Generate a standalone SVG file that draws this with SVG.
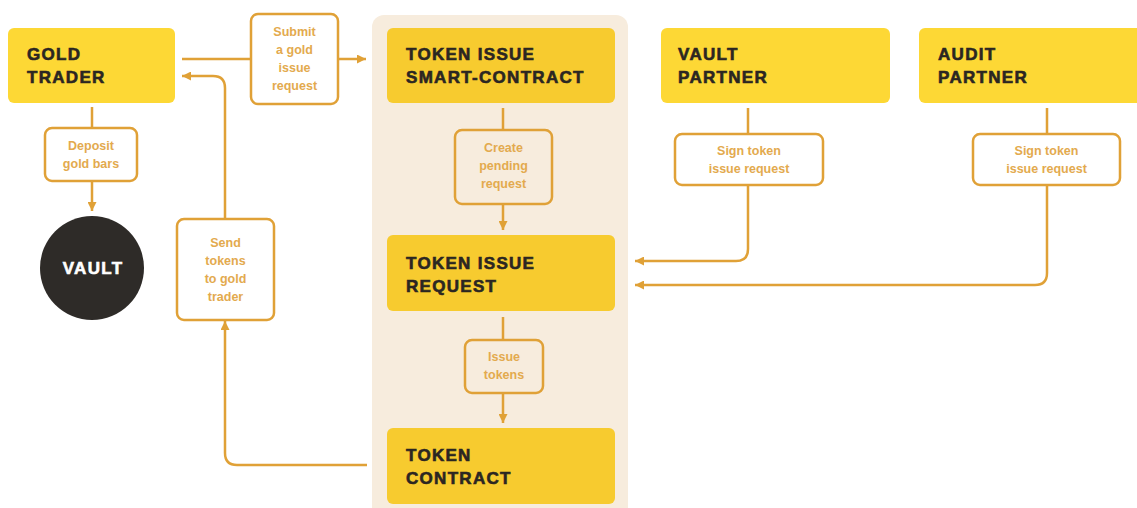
<svg xmlns="http://www.w3.org/2000/svg" width="1137" height="508" viewBox="0 0 1137 508">
<defs>
<marker id="arr" viewBox="0 0 9 9" refX="9" refY="4.5" markerWidth="9" markerHeight="9" markerUnits="userSpaceOnUse" orient="auto">
<path d="M0,0 L9,4.5 L0,9 z" fill="#E0A137"/>
</marker>
<style>
.node{fill:#FDD835}
.inner{fill:#F7CB2F}
.title{font-family:"Liberation Sans",Arial,sans-serif;font-weight:bold;font-size:17px;letter-spacing:1.3px;fill:#2B2622;stroke:#2B2622;stroke-width:0.6px}
.conn{fill:none;stroke:#E0A137;stroke-width:2.5}
.lbox{fill:#FFFFFF;stroke:#E0A137;stroke-width:2.5}
.lboxin{fill:#F7ECDD;stroke:#E0A137;stroke-width:2.5}
.lt{font-family:"Liberation Sans",Arial,sans-serif;font-weight:bold;font-size:12.5px;fill:#E3AA4E;text-anchor:middle;dominant-baseline:central}
</style>
</defs>
<rect width="1137" height="508" fill="#FFFFFF"/>
<rect id="panel" x="372" y="15" width="256" height="510" rx="12" fill="#F7ECDD"/>

<g id="connectors">
<path class="conn" d="M182,59 H366" marker-end="url(#arr)"/>
<path class="conn" d="M92,107 V211" marker-end="url(#arr)"/>
<path class="conn" d="M367,465 H237 Q225,465 225,453 V321" marker-end="url(#arr)"/>
<path class="conn" d="M225,219 V88 Q225,76 213,76 H182" marker-end="url(#arr)"/>
<path class="conn" d="M503,108 V230" marker-end="url(#arr)"/>
<path class="conn" d="M503,317 V423" marker-end="url(#arr)"/>
<path class="conn" d="M748,108 V249 Q748,261 736,261 H635" marker-end="url(#arr)"/>
<path class="conn" d="M1047,108 V273 Q1047,285 1035,285 H635" marker-end="url(#arr)"/>
</g>

<g id="gold-trader">
<rect class="node" x="8" y="28" width="167" height="75" rx="6"/>
<text class="title" x="27" y="60">GOLD</text>
<text class="title" x="27" y="83">TRADER</text>
</g>

<g id="token-issue-smart-contract">
<rect class="inner" x="387" y="28" width="228" height="75" rx="6"/>
<text class="title" x="406" y="60">TOKEN ISSUE</text>
<text class="title" x="406" y="83">SMART-CONTRACT</text>
</g>

<g id="vault-partner">
<rect class="node" x="661" y="28" width="229" height="75" rx="6"/>
<text class="title" x="678" y="60">VAULT</text>
<text class="title" x="678" y="83">PARTNER</text>
</g>

<g id="audit-partner">
<rect class="node" x="919" y="28" width="240" height="75" rx="6"/>
<text class="title" x="938" y="60">AUDIT</text>
<text class="title" x="938" y="83">PARTNER</text>
</g>

<g id="token-issue-request">
<rect class="inner" x="387" y="235" width="228" height="76" rx="6"/>
<text class="title" x="406" y="269">TOKEN ISSUE</text>
<text class="title" x="406" y="292">REQUEST</text>
</g>

<g id="token-contract">
<rect class="inner" x="387" y="428" width="228" height="76" rx="6"/>
<text class="title" x="406" y="461">TOKEN</text>
<text class="title" x="406" y="484">CONTRACT</text>
</g>

<g id="vault">
<circle cx="92" cy="268" r="52" fill="#2E2B28"/>
<text class="title" x="93" y="274" text-anchor="middle" style="fill:#FFFFFF;stroke:#FFFFFF">VAULT</text>
</g>

<g id="label-submit">
<rect class="lbox" x="251" y="14" width="87" height="90" rx="7"/>
<text class="lt" x="294.5" y="32">Submit</text>
<text class="lt" x="294.5" y="50">a gold</text>
<text class="lt" x="294.5" y="68">issue</text>
<text class="lt" x="294.5" y="86">request</text>
</g>

<g id="label-deposit">
<rect class="lbox" x="45" y="128" width="92" height="53" rx="7"/>
<text class="lt" x="91" y="146">Deposit</text>
<text class="lt" x="91" y="164">gold bars</text>
</g>

<g id="label-send">
<rect class="lbox" x="177" y="219" width="97" height="101" rx="7"/>
<text class="lt" x="225.5" y="243">Send</text>
<text class="lt" x="225.5" y="261">tokens</text>
<text class="lt" x="225.5" y="279">to gold</text>
<text class="lt" x="225.5" y="297">trader</text>
</g>

<g id="label-create">
<rect class="lboxin" x="455" y="130" width="97" height="74" rx="7"/>
<text class="lt" x="503.5" y="148">Create</text>
<text class="lt" x="503.5" y="166">pending</text>
<text class="lt" x="503.5" y="184">request</text>
</g>

<g id="label-issue">
<rect class="lboxin" x="465" y="340" width="78" height="53" rx="7"/>
<text class="lt" x="504" y="357">Issue</text>
<text class="lt" x="504" y="375">tokens</text>
</g>

<g id="label-sign-vault">
<rect class="lbox" x="675" y="134" width="148" height="51" rx="7"/>
<text class="lt" x="749" y="151">Sign token</text>
<text class="lt" x="749" y="169">issue request</text>
</g>

<g id="label-sign-audit">
<rect class="lbox" x="973" y="134" width="147" height="51" rx="7"/>
<text class="lt" x="1046.5" y="151">Sign token</text>
<text class="lt" x="1046.5" y="169">issue request</text>
</g>
</svg>
